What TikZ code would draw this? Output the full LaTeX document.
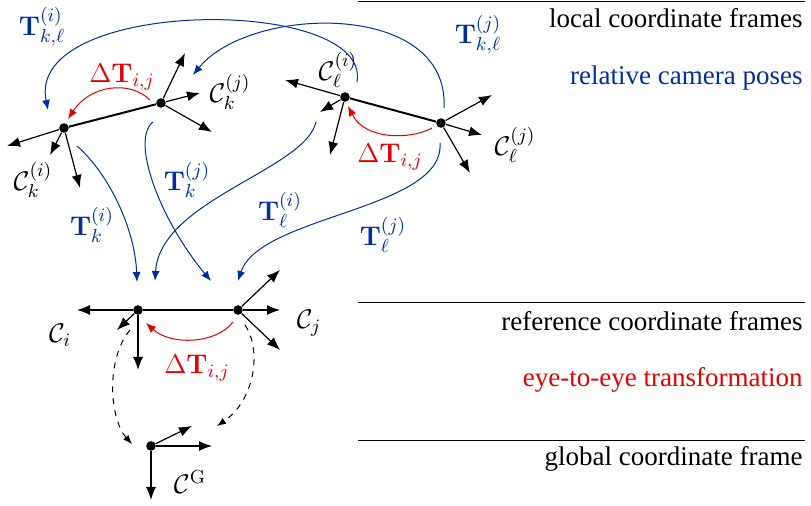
\RequirePackage{fix-cm}
\documentclass[tikz,border=0pt]{standalone}
\usepackage[no-math]{fontspec}
\setmainfont{Liberation Serif}
\usetikzlibrary{arrows.meta}
\definecolor{poseblue}{RGB}{0,45,160}
\definecolor{eyered}{RGB}{230,0,0}

\begin{document}
\begin{tikzpicture}[x=0.5pt, y=-0.5pt,
  font=\fontsize{13.5}{16}\selectfont,
  dot/.style={circle, fill=black, inner sep=0pt, minimum size=4.8pt},
  axis/.style={line width=0.6pt, -{Latex[length=6.5pt,width=5pt]}},
  base/.style={line width=1pt},
  pose/.style={poseblue, line width=0.5pt, -{Latex[length=5pt,width=4pt]}},
  eye/.style={eyered, line width=0.5pt, -{Latex[length=5pt,width=4pt]}},
  glob/.style={dashed, line width=0.5pt, -{Latex[length=4.5pt,width=3.5pt]}},
  lbl/.style={inner sep=0pt},
  caption/.style={anchor=east, inner sep=0pt}
]
  \useasboundingbox (0,0) rectangle (811,506);

  % level separators and captions
  \draw[line width=0.5pt] (358,2) -- (805,2);
  \draw[line width=0.5pt] (358,303) -- (805,303);
  \draw[line width=0.5pt] (358,441) -- (805,441);
  \node[caption] (local) at (803,18) {local coordinate frames};
  \node[caption, text=poseblue] (rel) at (803,78) {relative camera poses};
  \node[caption] (ref) at (803,321) {reference coordinate frames};
  \node[caption, text=eyered] (eye2eye) at (803,380) {eye-to-eye transformation};
  \node[caption] (glob) at (803,459) {global coordinate frame};

  % camera centres
  \node[dot] (ki) at (64,128) {};
  \node[dot] (kj) at (161,103) {};
  \node[dot] (li) at (345,97) {};
  \node[dot] (lj) at (441,123) {};
  \node[dot] (ci) at (138,310) {};
  \node[dot] (cj) at (238,310) {};
  \node[dot] (g) at (151,446) {};

  % rig k
  \draw[base] (ki) -- (kj);
  \draw[axis] (ki) -- ++(-57,18);
  \draw[axis] (ki) -- ++(-14,27);
  \draw[axis] (ki) -- ++(16,60);
  \draw[axis] (kj) -- ++(24,-50);
  \draw[axis] (kj) -- ++(39,-10);
  \draw[axis] (kj) -- ++(51,29);
  % rig l
  \draw[base] (li) -- (lj);
  \draw[axis] (li) -- ++(-60,-17);
  \draw[axis] (li) -- ++(-25,15);
  \draw[axis] (li) -- ++(-15,58);
  \draw[axis] (lj) -- ++(51,-28);
  \draw[axis] (lj) -- ++(41,12);
  \draw[axis] (lj) -- ++(29,50);
  % reference frames
  \draw[base] (ci) -- (cj);
  \draw[axis] (ci) -- ++(-61,0);
  \draw[axis] (ci) -- ++(-21,20);
  \draw[axis] (ci) -- ++(0,60);
  \draw[axis] (cj) -- ++(42,-40);
  \draw[axis] (cj) -- ++(42,0);
  \draw[axis] (cj) -- ++(42,40);
  % global frame
  \draw[axis] (g) -- ++(41,-20);
  \draw[axis] (g) -- ++(61,0);
  \draw[axis] (g) -- ++(0,54);

  % frame labels
  \node[lbl] (lki) at (33,180) {\(\mathcal{C}_k^{(i)}\)};
  \node[lbl] (lkj) at (230,92) {\(\mathcal{C}_k^{(j)}\)};
  \node[lbl] (lli) at (338,70) {\(\mathcal{C}_\ell^{(i)}\)};
  \node[lbl] (llj) at (515,145) {\(\mathcal{C}_\ell^{(j)}\)};
  \node[lbl] (lci) at (60,335) {\(\mathcal{C}_i\)};
  \node[lbl] (lcj) at (309,323) {\(\mathcal{C}_j\)};
  \node[lbl] (lg) at (190,482) {\(\mathcal{C}^{\mathrm{G}}\)};

  % relative poses
  \draw[pose] ([shift={(12,-15)}]li.center) .. controls +(15,-87) and +(-23,-113) .. ([shift={(-16,-18)}]ki.center);
  \draw[pose] ([shift={(3,-15)}]lj.center) .. controls +(6,-108) and +(57,-70) .. ([shift={(32,-28)}]kj.center);
  \draw[pose] ([shift={(13,18)}]ki.center) .. controls +(33,29) and +(-2,-52) .. ([shift={(-1,-28)}]ci.center);
  \draw[pose] ([shift={(-8,19)}]kj.center) .. controls +(-23,18) and +(-51,-61) .. ([shift={(-27,-29)}]cj.center);
  \draw[pose] ([shift={(-29,25)}]li.center) .. controls +(-11,48) and +(5,-81) .. ([shift={(17,-29)}]ci.center);
  \draw[pose] ([shift={(-1,20)}]lj.center) .. controls +(5,67) and +(22,-66) .. ([shift={(0,-29)}]cj.center);
  \node[lbl, text=poseblue] (tkli) at (42,27) {\(\mathbf{T}_{k,\ell}^{(i)}\)};
  \node[lbl, text=poseblue] (tklj) at (478,35) {\(\mathbf{T}_{k,\ell}^{(j)}\)};
  \node[lbl, text=poseblue] (tki) at (92,225) {\(\mathbf{T}_k^{(i)}\)};
  \node[lbl, text=poseblue] (tkj) at (187,180) {\(\mathbf{T}_k^{(j)}\)};
  \node[lbl, text=poseblue] (tli) at (280,210) {\(\mathbf{T}_\ell^{(i)}\)};
  \node[lbl, text=poseblue] (tlj) at (383,235) {\(\mathbf{T}_\ell^{(j)}\)};

  % eye-to-eye
  \draw[eye] ([shift={(-11,-3)}]kj.center) .. controls +(-20,-20) and +(22,-34) .. ([shift={(4,-9)}]ki.center);
  \draw[eye] ([shift={(-9,5)}]lj.center) .. controls +(-22,12) and +(17,34) .. ([shift={(3,9)}]li.center);
  \draw[eye] ([shift={(-5,12)}]cj.center) .. controls +(-18,23) and +(24,22) .. ([shift={(8,13)}]ci.center);
  \node[lbl, text=eyered] (dk) at (122,77) {\(\Delta\mathbf{T}_{i,j}\)};
  \node[lbl, text=eyered] (dl) at (390,157) {\(\Delta\mathbf{T}_{i,j}\)};
  \node[lbl, text=eyered] (dc) at (197,368) {\(\Delta\mathbf{T}_{i,j}\)};

  % to global
  \draw[glob] ([shift={(-8,20)}]ci.center) .. controls +(-25,30) and +(-22,-24) .. ([shift={(-19,-2)}]g.center);
  \draw[glob] ([shift={(7,15)}]cj.center) .. controls +(17,25) and +(38,-26) .. ([shift={(66,-20)}]g.center);
\end{tikzpicture}
\end{document}
